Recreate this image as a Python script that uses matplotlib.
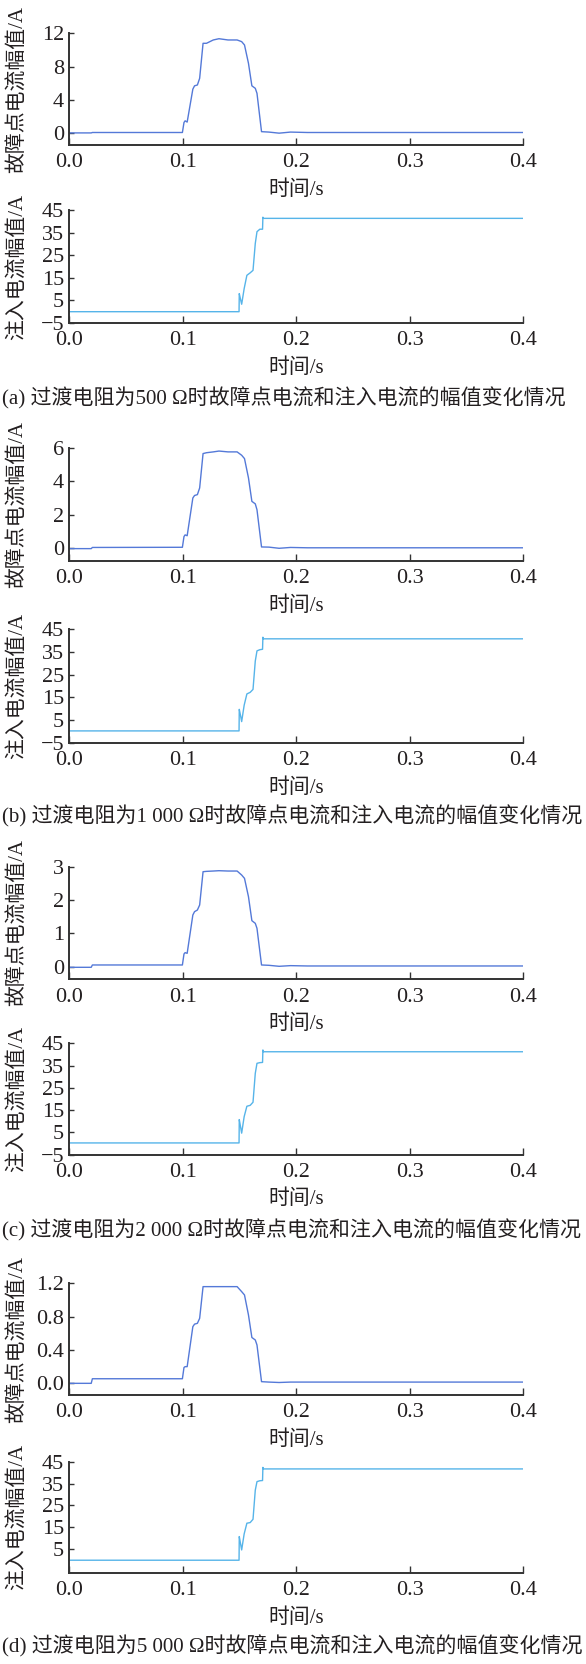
import matplotlib
matplotlib.use("Agg")
import matplotlib.pyplot as plt
from matplotlib.ticker import FormatStrFormatter

plt.rcParams['font.family'] = ['Liberation Serif', 'Noto Sans CJK SC']
plt.rcParams['axes.unicode_minus'] = True

W, H = 586, 1664

# fault point current amplitude (A), same time grid for every case
t_fault = [0.0, 0.0195, 0.0205, 0.0998, 0.1012, 0.1022, 0.1040, 0.1090, 0.1105,
           0.1130, 0.1150, 0.1180, 0.1210, 0.1270, 0.1320, 0.1400, 0.1480, 0.1520,
           0.1545, 0.1580, 0.1610, 0.1640, 0.1655, 0.1695, 0.1760, 0.1850, 0.1950,
           0.2100, 0.4000]
fault_500 = [0.05, 0.05, 0.1, 0.1, 1.3, 1.5, 1.35, 5.3, 5.7, 5.8, 6.6, 10.8, 10.8,
             11.2, 11.35, 11.2, 11.2, 11.0, 10.6, 8.4, 5.7, 5.4, 4.8, 0.2, 0.15,
             0.02, 0.15, 0.1, 0.1]
fault_1000 = [-0.02, -0.02, 0.05, 0.06, 0.7, 0.8, 0.75, 3.0, 3.15, 3.2, 3.6, 5.65,
              5.7, 5.75, 5.8, 5.75, 5.75, 5.55, 5.35, 4.2, 2.8, 2.65, 2.3, 0.08,
              0.07, 0.0, 0.05, 0.03, 0.03]
fault_2000 = [-0.02, -0.02, 0.05, 0.05, 0.38, 0.42, 0.4, 1.55, 1.65, 1.7, 1.85,
              2.85, 2.86, 2.87, 2.88, 2.87, 2.87, 2.75, 2.65, 2.1, 1.38, 1.3, 1.15,
              0.05, 0.04, 0.01, 0.03, 0.02, 0.02]
fault_5000 = [0.0, 0.0, 0.055, 0.055, 0.19, 0.2, 0.2, 0.68, 0.71, 0.72, 0.78, 1.16,
              1.16, 1.16, 1.16, 1.16, 1.16, 1.1, 1.06, 0.82, 0.55, 0.52, 0.46, 0.02,
              0.015, 0.01, 0.015, 0.015, 0.015]

# injected current amplitude (A)
t_inj = [0.0, 0.1497, 0.1499, 0.1510, 0.1520, 0.1542, 0.1566, 0.1595, 0.1620,
         0.1640, 0.1655, 0.1680, 0.1704, 0.1707, 0.1712, 0.4]
inj_500 = [0.0, 0.0, 8.0, 5.5, 3.3, 10.2, 16.1, 17.2, 18.3, 30.2, 35.4, 36.5, 36.5,
           41.8, 41.3, 41.3]
inj_1000 = [0.2, 0.2, 9.7, 7.0, 4.3, 11.5, 16.5, 17.2, 18.5, 31.0, 35.5, 36.0, 36.2,
            41.5, 40.8, 40.8]
inj_2000 = [0.2, 0.2, 10.7, 7.5, 4.6, 12.0, 16.7, 17.1, 18.5, 31.5, 36.0, 36.3, 36.4,
            42.0, 41.2, 41.2]
inj_5000 = [0.0, 0.0, 10.8, 7.6, 4.7, 12.0, 16.9, 17.2, 18.7, 32.0, 35.9, 36.3, 36.4,
            42.4, 41.7, 41.7]

x_ticks = [0.0, 0.1, 0.2, 0.3, 0.4]
fault_ticks = [[0, 4, 8, 12], [0, 2, 4, 6], [0, 1, 2, 3], [0.0, 0.4, 0.8, 1.2]]
fault_lims = [(-1.4, 12), (-0.74, 6), (-0.38, 3), (-0.14, 1.2)]
fault_fmt = ['%d', '%d', '%d', '%.1f']
inj_ticks = [[-5, 5, 15, 25, 35, 45]] * 3 + [[5, 15, 25, 35, 45]]
inj_lims = [(-5, 45), (-5, 45), (-5, 45), (-5.7, 45)]

captions = [
    "(a) 过渡电阻为500 Ω时故障点电流和注入电流的幅值变化情况",
    "(b) 过渡电阻为1 000 Ω时故障点电流和注入电流的幅值变化情况",
    "(c) 过渡电阻为2 000 Ω时故障点电流和注入电流的幅值变化情况",
    "(d) 过渡电阻为5 000 Ω时故障点电流和注入电流的幅值变化情况",
]
fault_vals = [fault_500, fault_1000, fault_2000, fault_5000]
inj_vals = [inj_500, inj_1000, inj_2000, inj_5000]

# pixel layout (top, bottom) of each axes, caption y
fault_px = [(33.3, 145), (447.7, 560.7), (866.7, 979.3), (1283.3, 1395)]
inj_px = [(210, 323), (629.3, 742.7), (1043.3, 1154.5), (1461.7, 1572.7)]
cap_y = [398.3, 816.7, 1230, 1646.7]
X0, X1 = 69.1, 523.2

TXT = '#231f20'
FAULT_C = '#5479d8'
INJ_C = '#56b4e9'

fig = plt.figure(figsize=(W / 100, H / 100), dpi=100)


def make_ax(top, bot):
    ax = fig.add_axes([X0 / W, 1 - bot / H, (X1 - X0) / W, (bot - top) / H])
    for s in ['top', 'right']:
        ax.spines[s].set_visible(False)
    for s in ['left', 'bottom']:
        ax.spines[s].set_linewidth(1.4)
        ax.spines[s].set_color('#333333')
    ax.tick_params(axis='x', direction='in', length=5, width=1.0, pad=6,
                   labelsize=16, colors='#333333', labelcolor=TXT)
    ax.tick_params(axis='y', direction='in', length=3.6, width=1.0, pad=3.5,
                   labelsize=16, colors='#333333', labelcolor=TXT)
    ax.set_xlim(0, 0.4)
    ax.set_xticks(x_ticks)
    ax.xaxis.set_major_formatter(FormatStrFormatter('%.1f'))
    ax.set_xlabel("时间/s", fontsize=15, color=TXT, va='center')
    ax.xaxis.set_label_coords(0.5, -45 / (bot - top))
    ax.yaxis.set_label_coords((17.6 - X0) / (X1 - X0), 0.5)
    return ax


for i in range(4):
    ax = make_ax(*fault_px[i])
    ax.plot(t_fault, fault_vals[i], color=FAULT_C, lw=1.0)
    ax.set_ylim(*fault_lims[i])
    ax.set_yticks(fault_ticks[i])
    ax.yaxis.set_major_formatter(FormatStrFormatter(fault_fmt[i]))
    ax.set_ylabel("故障点电流幅值/A", fontsize=15, color=TXT, va='center')

    ax = make_ax(*inj_px[i])
    ax.plot(t_inj, inj_vals[i], color=INJ_C, lw=1.0)
    ax.set_ylim(*inj_lims[i])
    ax.set_yticks(inj_ticks[i])
    ax.set_ylabel("注入电流幅值/A", fontsize=15, color=TXT, va='center')

    # a touch smaller than the reference so the longer captions stay inside
    fig.text(2 / W, 1 - cap_y[i] / H, captions[i], fontsize=15.1, color=TXT,
             ha='left', va='center')

fig.savefig("out.png", dpi=100)
